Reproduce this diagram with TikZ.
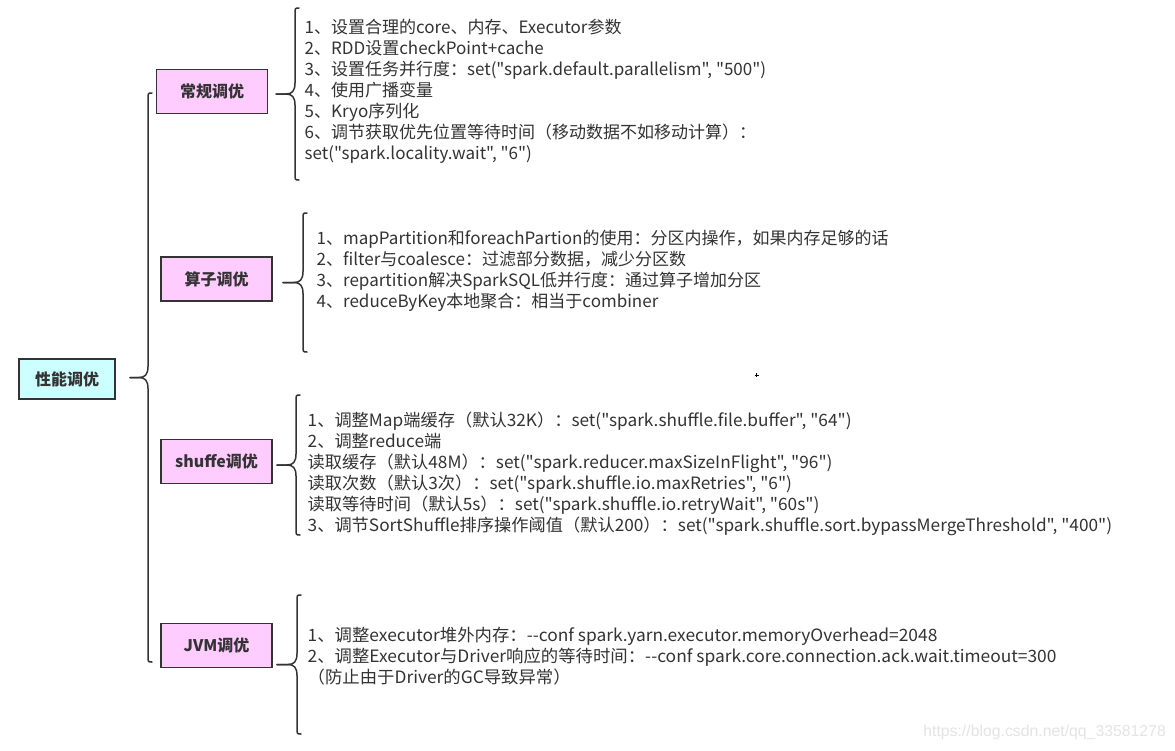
\documentclass[tikz,border=0pt]{standalone}
\usepackage{fontspec}
\usepackage{graphicx}
\newfontfamily\mainfnt{Noto Sans CJK SC}
\newfontfamily\wmfont{Liberation Sans}
\usetikzlibrary{calc}
\definecolor{edgecol}{HTML}{333333}
\definecolor{rootfill}{HTML}{CCFFFF}
\definecolor{catfill}{HTML}{FFCCFF}
\definecolor{txtcol}{HTML}{333333}
\definecolor{wmcol}{HTML}{E4E4E4}
\tikzset{
  rootbox/.style={draw=edgecol, line width=1.8pt, fill=rootfill, minimum width=96pt, minimum height=40pt, inner sep=0pt, text=txtcol, font=\mainfnt\fontsize{16}{18}\selectfont\bfseries},
  catbox/.style={draw=edgecol, line width=1.8pt, fill=catfill, minimum width=111pt, minimum height=44pt, inner sep=0pt, text=txtcol, font=\mainfnt\fontsize{16}{18}\selectfont\bfseries},
  bracestyle/.style={draw=edgecol, line width=1.5pt, line cap=round, line join=round},
  textblock/.style={anchor=base west, inner sep=0pt, text=txtcol, font=\mainfnt\fontsize{17}{21}\selectfont},
}
\newcommand\bracedraw[4]{% #1 vertical x, #2 top y, #3 bottom y, #4 tip x
  \pgfmathsetmacro\bm{(#2+#3)/2}
  \draw[bracestyle] (#1+4,#2) .. controls (#1,#2) .. (#1,#2+6) -- (#1,\bm-11) .. controls (#1,\bm-3) and (#1-3,\bm) .. (#1-9,\bm) -- (#4,\bm);
  \draw[bracestyle] (#4,\bm) -- (#1-9,\bm) .. controls (#1-3,\bm) and (#1,\bm+3) .. (#1,\bm+11) -- (#1,#3-6) .. controls (#1,#3) .. (#1+4,#3);
}
\begin{document}
\begin{tikzpicture}[x=1pt,y=-1pt]
\useasboundingbox[fill=white] (0,0) rectangle (1175,750);

\node[rootbox] (root) at (67,379) {性能调优};
\node[catbox] (c1) at (212,91.5) {常规调优};
\node[catbox] (c2) at (216.5,279) {算子调优};
\node[catbox] (c3) at (216.5,461.5) {shuffe调优};
\node[catbox] (c4) at (216.5,645.5) {JVM调优};

\bracedraw{148}{93}{662}{130}
\bracedraw{295}{8}{180}{276}
\bracedraw{303}{213}{352}{283}
\bracedraw{296}{395}{535}{277}
\bracedraw{297}{595}{734}{277}

\node[textblock] (t1) at (304.5,33) {\begin{tabular}[t]{@{}l@{}}
1、设置合理的core、内存、Executor参数\\
2、RDD设置checkPoint+cache\\
3、设置任务并行度：set("spark.default.parallelism", "500")\\
4、使用广播变量\\
5、Kryo序列化\\
6、调节获取优先位置等待时间（移动数据不如移动计算）：\\
set("spark.locality.wait", "6")
\end{tabular}};

\node[textblock] (t2) at (316.5,244) {\begin{tabular}[t]{@{}l@{}}
1、mapPartition和foreachPartion的使用：分区内操作，如果内存足够的话\\
2、filter与coalesce：过滤部分数据，减少分区数\\
3、repartition解决SparkSQL低并行度：通过算子增加分区\\
4、reduceByKey本地聚合：相当于combiner
\end{tabular}};

\node[textblock] (t3) at (307.5,426) {\scalebox{1.014}[1]{\begin{tabular}[t]{@{}l@{}}
1、调整Map端缓存（默认32K）：set("spark.shuffle.file.buffer", "64")\\
2、调整reduce端\\
读取缓存（默认48M）：set("spark.reducer.maxSizeInFlight", "96")\\
读取次数（默认3次）：set("spark.shuffle.io.maxRetries", "6")\\
读取等待时间（默认5s）：set("spark.shuffle.io.retryWait", "60s")\\
3、调节SortShuffle排序操作阈值（默认200）：set("spark.shuffle.sort.bypassMergeThreshold", "400")
\end{tabular}}};

\node[textblock] (t4) at (307.5,641) {\scalebox{1.022}[1]{\begin{tabular}[t]{@{}l@{}}
1、调整executor堆外内存：--conf spark.yarn.executor.memoryOverhead=2048\\
2、调整Executor与Driver响应的等待时间：--conf spark.core.connection.ack.wait.timeout=300\\
（防止由于Driver的GC导致异常）
\end{tabular}}};

\node[anchor=base east, inner sep=0pt, text=wmcol, font=\wmfont\fontsize{15.8}{18}\selectfont] (wm) at (1166,736.5) {https://blog.csdn.net/qq\_33581278};
\draw[black, line width=0.8pt] (754.5,375) -- (758.5,375) (756.5,373) -- (756.5,377);
\end{tikzpicture}
\end{document}
